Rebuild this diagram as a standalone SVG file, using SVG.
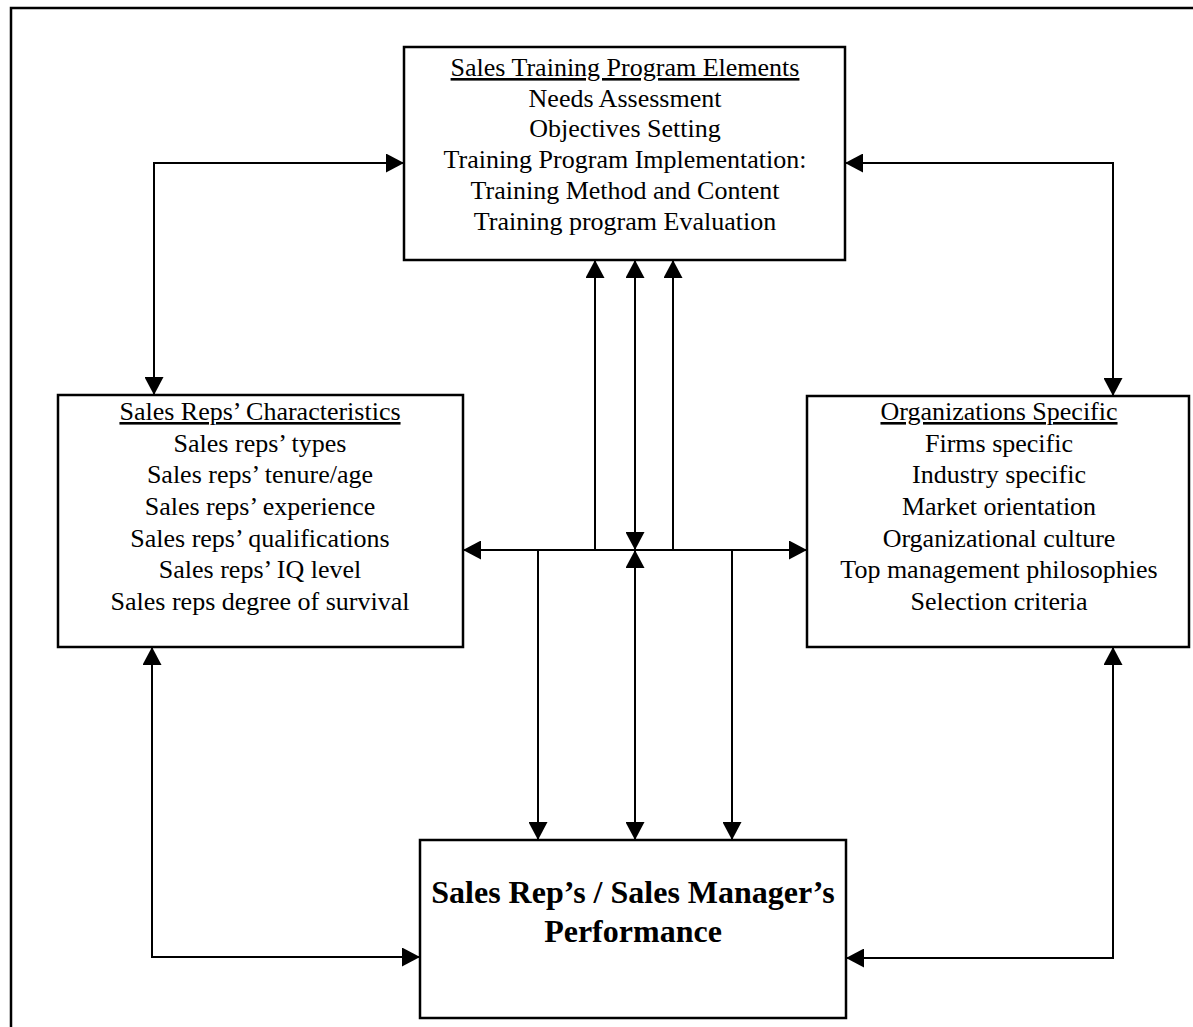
<svg xmlns="http://www.w3.org/2000/svg" width="1193" height="1027" viewBox="0 0 1193 1027">
<style>
.box{fill:#fff;stroke:#000;stroke-width:2.5}
.t{font-family:"Liberation Serif","Times New Roman",serif;font-size:26px;fill:#000;text-anchor:middle}
.h{text-decoration:underline}
.b{font-family:"Liberation Serif","Times New Roman",serif;font-size:32px;font-weight:bold;fill:#000;text-anchor:middle}
.c{fill:none;stroke:#000;stroke-width:2}
</style>
<defs>
<marker id="ah" viewBox="0 0 18 19" refX="18" refY="9.5" markerWidth="18" markerHeight="19" markerUnits="userSpaceOnUse" orient="auto-start-reverse">
<path d="M0,0 L18,9.5 L0,19 Z" fill="#000"/>
</marker>
</defs>
<rect width="1193" height="1027" fill="#fff"/>
<path d="M11,1027 L11,8 L1193,8" fill="none" stroke="#000" stroke-width="2.5"/>
<g id="connectors">
<path class="c" d="M404,163 L154,163 L154,395" marker-start="url(#ah)" marker-end="url(#ah)"/>
<path class="c" d="M845,163 L1113,163 L1113,396" marker-start="url(#ah)" marker-end="url(#ah)"/>
<path class="c" d="M463,550 L807,550" marker-start="url(#ah)" marker-end="url(#ah)"/>
<path class="c" d="M595,550 L595,260" marker-end="url(#ah)"/>
<path class="c" d="M635,550 L635,260" marker-start="url(#ah)" marker-end="url(#ah)"/>
<path class="c" d="M673,550 L673,260" marker-end="url(#ah)"/>
<path class="c" d="M538,550 L538,840" marker-end="url(#ah)"/>
<path class="c" d="M635,550 L635,840" marker-start="url(#ah)" marker-end="url(#ah)"/>
<path class="c" d="M732,550 L732,840" marker-end="url(#ah)"/>
<path class="c" d="M152,647 L152,957 L420,957" marker-start="url(#ah)" marker-end="url(#ah)"/>
<path class="c" d="M1113,647 L1113,958 L846,958" marker-start="url(#ah)" marker-end="url(#ah)"/>
</g>
<g id="training">
<rect class="box" x="404" y="47" width="441" height="213"/>
<text class="t h" x="625" y="76">Sales Training Program Elements</text>
<text class="t" x="625" y="107">Needs Assessment</text>
<text class="t" x="625" y="137">Objectives Setting</text>
<text class="t" x="625" y="168">Training Program Implementation:</text>
<text class="t" x="625" y="199">Training Method and Content</text>
<text class="t" x="625" y="230">Training program Evaluation</text>
</g>
<g id="reps">
<rect class="box" x="58" y="395" width="405" height="252"/>
<text class="t h" x="260" y="420">Sales Reps’ Characteristics</text>
<text class="t" x="260" y="452">Sales reps’ types</text>
<text class="t" x="260" y="483">Sales reps’ tenure/age</text>
<text class="t" x="260" y="515">Sales reps’ experience</text>
<text class="t" x="260" y="547">Sales reps’ qualifications</text>
<text class="t" x="260" y="578">Sales reps’ IQ level</text>
<text class="t" x="260" y="610">Sales reps degree of survival</text>
</g>
<g id="org">
<rect class="box" x="807" y="396" width="382" height="251"/>
<text class="t h" x="999" y="420">Organizations Specific</text>
<text class="t" x="999" y="452">Firms specific</text>
<text class="t" x="999" y="483">Industry specific</text>
<text class="t" x="999" y="515">Market orientation</text>
<text class="t" x="999" y="547">Organizational culture</text>
<text class="t" x="999" y="578">Top management philosophies</text>
<text class="t" x="999" y="610">Selection criteria</text>
</g>
<g id="performance">
<rect class="box" x="420" y="840" width="426" height="178"/>
<text class="b" x="633" y="903">Sales Rep’s / Sales Manager’s</text>
<text class="b" x="633" y="942">Performance</text>
</g>
</svg>
